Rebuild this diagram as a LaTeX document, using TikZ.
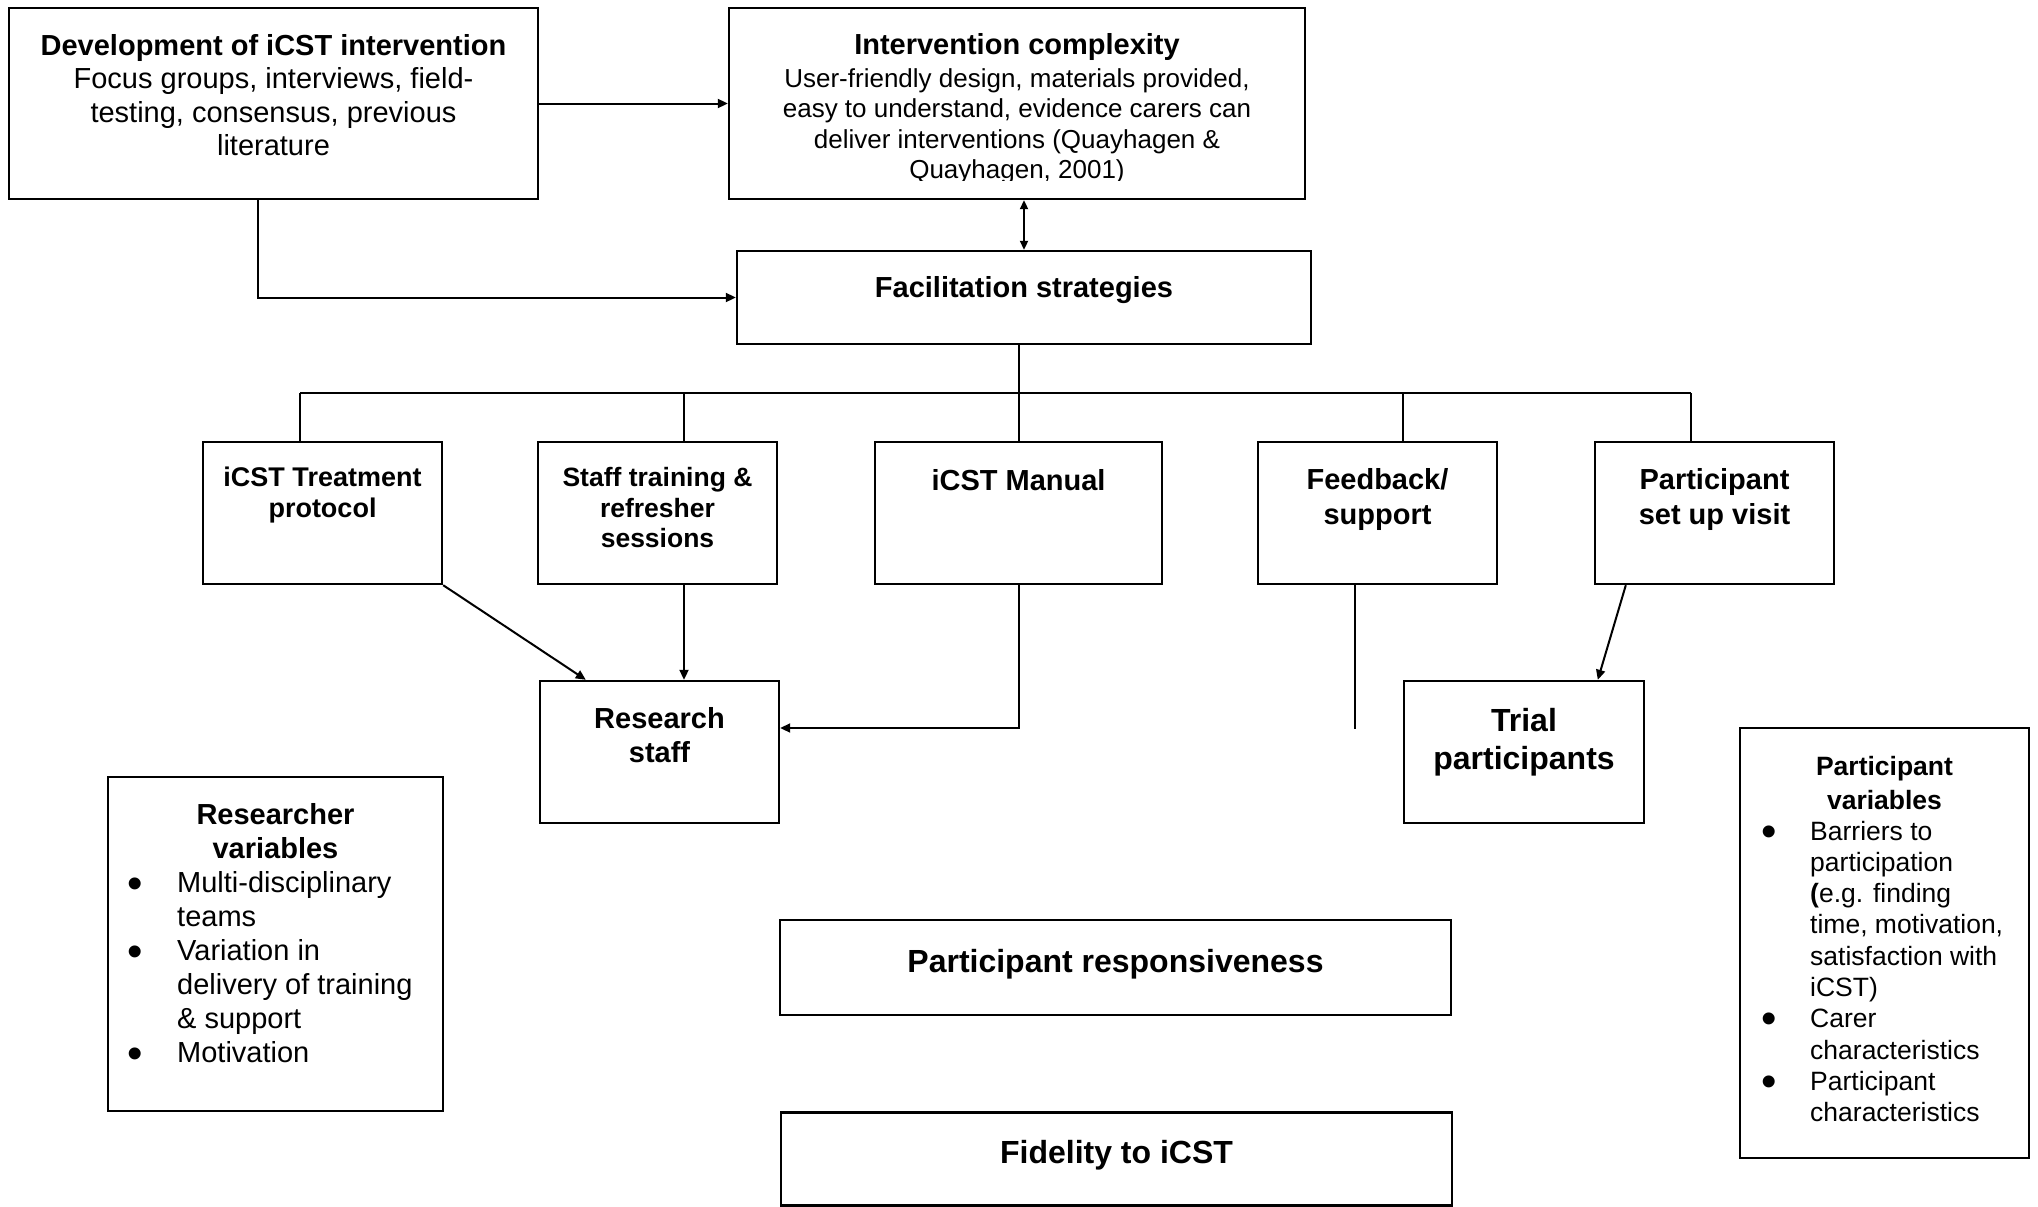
\documentclass[tikz,border=0pt]{standalone}
\usepackage{fontspec}
\setmainfont{Liberation Sans}
\usetikzlibrary{arrows.meta,calc}
\begin{document}
\begin{tikzpicture}[x=1pt,y=-1pt,
  box/.style={draw, line width=2.4pt, inner sep=0pt},
  conn/.style={line width=2pt},
  arr/.style={conn, -{Triangle[length=10pt,width=9pt]}},
  darr/.style={conn, {Triangle[length=9pt,width=8pt]}-{Triangle[length=9pt,width=8pt]}},
  txt/.style={inner sep=0pt, align=center, anchor=base},
  ltxt/.style={inner sep=0pt, align=left, anchor=base west},
  bul/.style={inner sep=0pt, anchor=base, font={\fontsize{44}{44}\selectfont}},
]
\useasboundingbox (0,0) rectangle (2038,1207);

% boxes
\node[box, minimum width=529pt, minimum height=191pt] (dev) at (273.5,103.5) {};
\node[box, minimum width=576pt, minimum height=191pt] (cmp) at (1017,103.5) {};
\node[box, minimum width=574pt, minimum height=93pt] (fac) at (1024,297.5) {};
\node[box, minimum width=239pt, minimum height=142pt] (tp) at (322.5,513) {};
\node[box, minimum width=239pt, minimum height=142pt] (st) at (657.5,513) {};
\node[box, minimum width=287pt, minimum height=142pt] (man) at (1018.5,513) {};
\node[box, minimum width=239pt, minimum height=142pt] (fb) at (1377.5,513) {};
\node[box, minimum width=239pt, minimum height=142pt] (psv) at (1714.5,513) {};
\node[box, minimum width=239pt, minimum height=142pt] (rs) at (659.5,752) {};
\node[box, minimum width=240pt, minimum height=142pt] (tri) at (1524,752) {};
\node[box, minimum width=335pt, minimum height=334pt] (rv) at (275.5,944) {};
\node[box, minimum width=671pt, minimum height=95pt] (pr) at (1115.5,967.5) {};
\node[box, minimum width=671pt, minimum height=93pt] (fid) at (1116.5,1159) {};
\node[box, minimum width=289pt, minimum height=430pt] (pv) at (1884.5,943) {};

% texts (anchor base = baseline of the last line)
\node[txt, font={\fontsize{29}{33.5}\selectfont}] (devT) at (273.5,155.5)
  {\textbf{Development of iCST intervention}\\Focus groups, interviews, field-\\testing, consensus, previous\\literature};
\node[txt, font={\fontsize{29}{33.5}\selectfont\bfseries}] (cmpH) at (1017,55) {Intervention complexity};
\begin{scope}
\clip (729,0) rectangle (1305,180);
\node[txt, font={\fontsize{26}{30.5}\selectfont}] (cmpT) at (1017,178.5)
  {User-friendly design, materials provided,\\easy to understand, evidence carers can\\deliver interventions (Quayhagen \&\\Quayhagen, 2001)};
\end{scope}
\node[txt, font={\fontsize{29}{33.5}\selectfont\bfseries}] (facT) at (1024,297.5) {Facilitation strategies};
\node[txt, font={\fontsize{27}{31.5}\selectfont\bfseries}] (tpT) at (322.5,517.5) {iCST Treatment\\protocol};
\node[txt, font={\fontsize{26.5}{30.5}\selectfont\bfseries}] (stT) at (657.5,547.5) {Staff training \&\\refresher\\sessions};
\node[txt, font={\fontsize{29}{34}\selectfont\bfseries}] (manT) at (1018.5,490) {iCST Manual};
\node[txt, font={\fontsize{29}{35}\selectfont\bfseries}] (fbT) at (1377.5,524) {Feedback/\\support};
\node[txt, font={\fontsize{29}{35}\selectfont\bfseries}] (psvT) at (1714.5,524) {Participant\\set up visit};
\node[txt, font={\fontsize{29}{34}\selectfont\bfseries}] (rsT) at (659.5,762) {Research\\staff};
\node[txt, font={\fontsize{32}{38}\selectfont\bfseries}] (triT) at (1524,769) {Trial\\participants};
\node[txt, font={\fontsize{32}{38}\selectfont\bfseries}] (prT) at (1115.5,972) {Participant responsiveness};
\node[txt, font={\fontsize{32}{38}\selectfont\bfseries}] (fidT) at (1116.5,1163) {Fidelity to iCST};

% researcher variables
\node[txt, font={\fontsize{29}{34}\selectfont\bfseries}] (rvH) at (275.5,858) {Researcher\\variables};
\node[ltxt, font={\fontsize{29}{34}\selectfont}] (rvL) at (177,1062)
  {Multi-disciplinary\\teams\\Variation in\\delivery of training\\\& support\\Motivation};
\node[bul] (rvB1) at (135,898) {\textbullet};
\node[bul] (rvB2) at (135,966) {\textbullet};
\node[bul] (rvB3) at (135,1068) {\textbullet};

% participant variables
\node[txt, font={\fontsize{26.5}{34}\selectfont\bfseries}] (pvH) at (1884.5,809) {Participant\\variables};
\node[ltxt, font={\fontsize{26.5}{31.3}\selectfont}] (pvL) at (1810,1121.7)
  {Barriers to\\participation\\\textbf{(}e.g. finding\\time, motivation,\\satisfaction with\\iCST)\\Carer\\characteristics\\Participant\\characteristics};
\node[bul] (pvB1) at (1769,846) {\textbullet};
\node[bul] (pvB2) at (1769,1033.8) {\textbullet};
\node[bul] (pvB3) at (1769,1096.4) {\textbullet};

% connectors
\draw[arr] (dev.east) -- (cmp.west);
\coordinate (dd) at ($(dev.south)+(-15.5,0)$);
\draw[arr] (dd) |- (fac.west);
\draw[darr] (fac.north) -- (fac.north |- cmp.south);

\coordinate (busL) at (300,393);
\coordinate (busR) at (1691,393);
\coordinate (d2) at (684,393);
\coordinate (d4) at (1403,393);
\draw[conn] (busL) -- (busR);
\draw[conn] (busL) -- (busL |- tp.north);
\draw[conn] (d2) -- (d2 |- st.north);
\draw[conn] (man.north |- fac.south) -- (man.north);
\draw[conn] (d4) -- (d4 |- fb.north);
\draw[conn] (busR) -- (busR |- psv.north);

\draw[arr] (tp.south east) -- ($(rs.north west)+(47,0)$);
\draw[arr] (d2 |- st.south) -- (d2 |- rs.north);
\draw[arr] (man.south) |- ($(rs.east)+(0,-24)$);
\coordinate (fbx) at ($(fb.south west)+(98,0)$);
\coordinate (fbend) at ($(fbx)+(0,144)$);
\draw[conn] (fbx) -- (fbend);
\draw[arr] ($(psv.south west)+(32,0)$) -- ($(tri.north west)+(195,0)$);
\end{tikzpicture}
\end{document}
